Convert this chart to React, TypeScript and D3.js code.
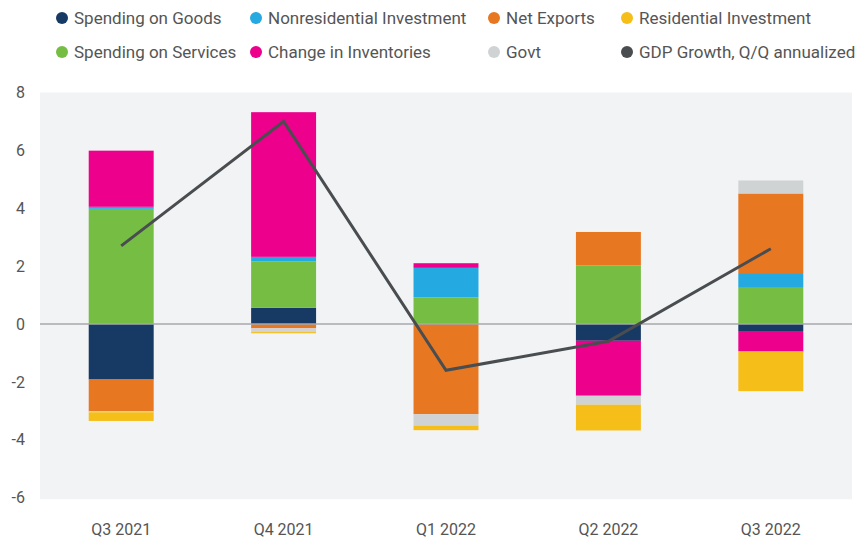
import React from "react";
import * as d3 from "d3";

const quarters = ["Q3 2021", "Q4 2021", "Q1 2022", "Q2 2022", "Q3 2022"];
const spendingGoods = [-1.92, 0.56, 0, -0.58, -0.27];
const spendingServices = [3.98, 1.6, 0.92, 2.02, 1.25];
const nonresInvestment = [0.07, 0.16, 1.02, 0, 0.51];
const inventories = [1.94, 5.0, 0.16, -1.9, -0.68];
const netExports = [-1.1, -0.15, -3.12, 1.16, 2.75];
const govt = [-0.03, -0.13, -0.39, -0.31, 0.45];
const residential = [-0.3, -0.04, -0.16, -0.89, -1.37];
const gdpGrowth = [2.7, 7.0, -1.6, -0.6, 2.6];
const yTicks = [8, 6, 4, 2, 0, -2, -4, -6];

const seriesDefs = [
  { key: "goods", name: "Spending on Goods", values: spendingGoods, color: "#173a64" },
  { key: "services", name: "Spending on Services", values: spendingServices, color: "#76bd43" },
  { key: "nonres", name: "Nonresidential Investment", values: nonresInvestment, color: "#24a9e1" },
  { key: "inv", name: "Change in Inventories", values: inventories, color: "#ec008c" },
  { key: "netexp", name: "Net Exports", values: netExports, color: "#e87722" },
  { key: "govt", name: "Govt", values: govt, color: "#d0d3d4" },
  { key: "resid", name: "Residential Investment", values: residential, color: "#f6be18" },
];

const legendItems = [
  { name: "Spending on Goods", color: "#173a64", col: 0, row: 0 },
  { name: "Nonresidential Investment", color: "#24a9e1", col: 1, row: 0 },
  { name: "Net Exports", color: "#e87722", col: 2, row: 0 },
  { name: "Residential Investment", color: "#f6be18", col: 3, row: 0 },
  { name: "Spending on Services", color: "#76bd43", col: 0, row: 1 },
  { name: "Change in Inventories", color: "#ec008c", col: 1, row: 1 },
  { name: "Govt", color: "#d0d3d4", col: 2, row: 1 },
  { name: "GDP Growth, Q/Q annualized", color: "#4a4d50", col: 3, row: 1 },
];
const legendColX = [62, 256, 494, 627];
const legendRowY = [18, 52];

export default function App() {
  const width = 857;
  const height = 540;
  const left = 40;
  const right = 852;

  const x = d3.scaleBand<string>().domain(quarters).range([left, right]).paddingInner(0.6).paddingOuter(0.3);
  const y = d3.scaleLinear().domain([-6, 8]).range([497.6, 92.5]);

  const table = quarters.map((q, i) => {
    const row: any = { q };
    seriesDefs.forEach((s) => (row[s.key] = s.values[i]));
    return row;
  });
  const stack = d3.stack<any>().keys(seriesDefs.map((s) => s.key)).offset(d3.stackOffsetDiverging);
  const stacked = stack(table);

  const line = d3
    .line<number>()
    .x((_, i) => (x(quarters[i]) as number) + x.bandwidth() / 2)
    .y((d) => y(d));

  const font = "Roboto, 'Noto Sans', sans-serif";

  return (
    <svg width={width} height={height} style={{ position: "absolute", left: 0, top: 0, background: "#fff" }}>
      <rect x={left} y={y(8)} width={right - left} height={499.3 - y(8)} fill="#f2f3f5" />
      {stacked.map((layer, li) => (
        <g key={layer.key} fill={seriesDefs[li].color}>
          {layer.map((d, i) => {
            const h = Math.abs(y(d[0]) - y(d[1]));
            if (h < 0.01) return null;
            return (
              <rect
                key={i}
                x={x(quarters[i])}
                y={Math.min(y(d[0]), y(d[1]))}
                width={x.bandwidth()}
                height={h}
              />
            );
          })}
        </g>
      ))}
      <line x1={left} x2={right} y1={y(0)} y2={y(0)} stroke="#a6a8ab" strokeWidth={1.5} />
      <path d={line(gdpGrowth) || ""} fill="none" stroke="#4a4d50" strokeWidth={3} strokeLinejoin="miter" />
      {yTicks.map((t) => (
        <text key={t} x={25} y={y(t)} dy="0.36em" textAnchor="end" fontFamily={font} fontSize={16} fill="#555">
          {t}
        </text>
      ))}
      {quarters.map((q) => (
        <text
          key={q}
          x={(x(q) as number) + x.bandwidth() / 2}
          y={535}
          textAnchor="middle"
          fontFamily={font}
          fontSize={16}
          fill="#555"
        >
          {q}
        </text>
      ))}
      {legendItems.map((it) => (
        <g key={it.name}>
          <circle cx={legendColX[it.col]} cy={legendRowY[it.row]} r={6} fill={it.color} />
          <text
            x={legendColX[it.col] + 12}
            y={legendRowY[it.row]}
            dy="0.36em"
            fontFamily={font}
            fontSize={17}
            fill="#555"
          >
            {it.name}
          </text>
        </g>
      ))}
    </svg>
  );
}
